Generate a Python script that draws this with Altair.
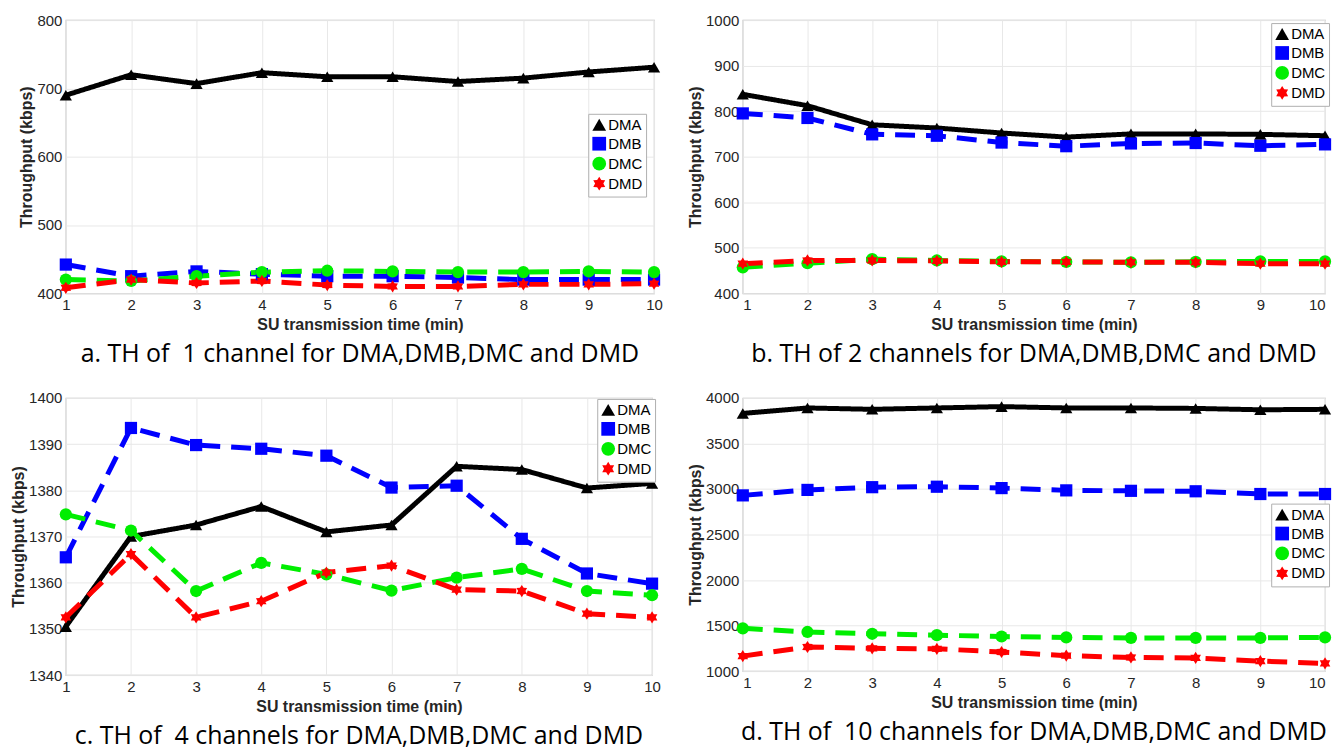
import altair as alt
import pandas as pd

x_vals = list(range(1, 11))
series = ["DMA", "DMB", "DMC", "DMD"]

# panel a: 1 channel
a_dma = [690, 720, 707, 723, 717, 717, 710, 715, 724, 731]
a_dmb = [442, 425, 432, 428, 425, 425, 423, 420, 420, 420]
a_dmc = [420, 418, 425, 431, 433, 432, 431, 431, 432, 431]
a_dmd = [408, 420, 415, 418, 412, 410, 410, 413, 413, 414]

# panel b: 2 channels
b_dma = [837, 812, 770, 763, 752, 743, 750, 750, 749, 746]
b_dmb = [795, 785, 749, 746, 731, 723, 729, 730, 724, 727]
b_dmc = [457, 466, 475, 472, 470, 469, 468, 469, 470, 470]
b_dmd = [465, 472, 472, 471, 469, 469, 468, 468, 465, 465]

# panel c: 4 channels
c_dma = [1350.5, 1370, 1372.5, 1376.5, 1371, 1372.5, 1385.2, 1384.5, 1380.5, 1381.5]
c_dmb = [1365.5, 1393.5, 1389.8, 1389, 1387.5, 1380.6, 1381, 1369.5, 1362, 1359.8]
c_dmc = [1374.8, 1371.3, 1358.2, 1364.3, 1361.8, 1358.3, 1361.1, 1363, 1358.2, 1357.3]
c_dmd = [1352.5, 1366.2, 1352.5, 1356, 1362.2, 1363.7, 1358.5, 1358.2, 1353.3, 1352.5]

# panel d: 10 channels
d_dma = [3830, 3890, 3875, 3890, 3905, 3890, 3890, 3885, 3870, 3875]
d_dmb = [2930, 2990, 3020, 3025, 3010, 2985, 2980, 2975, 2945, 2945]
d_dmc = [1470, 1430, 1410, 1395, 1380, 1370, 1365, 1365, 1365, 1370]
d_dmd = [1165, 1265, 1250, 1245, 1210, 1170, 1150, 1145, 1110, 1085]

captions = [
    "a. TH of \u00a01 channel for DMA,DMB,DMC and DMD",
    "b. TH of 2 channels for DMA,DMB,DMC and DMD",
    "c. TH of \u00a04 channels for DMA,DMB,DMC and DMD",
    "d. TH of \u00a010 channels for DMA,DMB,DMC and DMD",
]

colors = ["#000000", "#0000ff", "#00ee00", "#ff0000"]
hexagram = ("M0,-1L0.3,-0.52L0.866,-0.5L0.6,0L0.866,0.5L0.3,0.52L0,1L-0.3,0.52"
            "L-0.866,0.5L-0.6,0L-0.866,-0.5L-0.3,-0.52Z")
shapes = ["triangle-up", "square", "circle", hexagram]
dashes = [[1, 0], [20, 11], [20, 11], [20, 11]]

LABEL_FONT = "Liberation Sans Narrow, Liberation Sans, Arial"


def panel(vals, ymin, ymax, step, w, h, lx, ly, caption, flush=False):
    rows = []
    for s, v in zip(series, vals):
        for xv, yv in zip(x_vals, v):
            rows.append({"time": xv, "series": s, "line_series": s, "value": yv})
    df = pd.DataFrame(rows)
    xenc = alt.X(
        "time:Q",
        scale=alt.Scale(domain=[1, 10], nice=False),
        axis=alt.Axis(values=x_vals, title="SU transmission time (min)",
                      format="d", labelFlush=flush, titlePadding=4),
    )
    yticks = list(range(ymin, ymax + 1, step))
    yenc = alt.Y(
        "value:Q",
        scale=alt.Scale(domain=[ymin, ymax], nice=False, zero=False),
        axis=alt.Axis(values=yticks, title="Throughput (kbps)", format="d",
                      titlePadding=2),
    )
    base = alt.Chart(df)
    # data-driven domain (alphabetical = DMA..DMD) so that the hidden line legends
    # are not merged with the visible marker legend
    lines = base.mark_line(strokeWidth=5).encode(
        x=xenc, y=yenc,
        stroke=alt.Stroke("line_series:N", scale=alt.Scale(range=colors), legend=None),
        strokeDash=alt.StrokeDash("line_series:N", scale=alt.Scale(range=dashes), legend=None),
    )
    leg = alt.Legend(orient="none", legendX=lx, legendY=ly, title=None,
                     strokeColor="#b0b0b0", fillColor="white", padding=3,
                     labelFont="Liberation Sans, Arial", labelFontSize=15,
                     labelColor="#000000", symbolSize=190, rowPadding=0,
                     labelOffset=1)
    pts = base.mark_point(filled=True, size=150, opacity=1, strokeWidth=0).encode(
        x=xenc, y=yenc,
        fill=alt.Fill("series:N", scale=alt.Scale(domain=series, range=colors), legend=leg),
        shape=alt.Shape("series:N", scale=alt.Scale(domain=series, range=shapes), legend=leg),
    )
    return alt.layer(lines, pts).properties(
        width=w, height=h,
        title=alt.TitleParams(caption, orient="bottom", anchor="middle",
                              font="Open Sans", fontSize=25, fontWeight="normal",
                              color="#000000", offset=10),
    )


pa = panel([a_dma, a_dmb, a_dmc, a_dmd], 400, 800, 100, 590, 274, 524, 94, captions[0])
pb = panel([b_dma, b_dmb, b_dmc, b_dmd], 400, 1000, 100, 584, 274, 530, 3, captions[1], flush=True)
pc = panel([c_dma, c_dmb, c_dmc, c_dmd], 1340, 1400, 10, 588, 278, 533, 1, captions[2])
pd_ = panel([d_dma, d_dmb, d_dmc, d_dmd], 1000, 4000, 500, 584, 274, 530, 106, captions[3], flush=True)

res = dict(fill="independent", shape="independent", stroke="independent", strokeDash="independent")

chart = alt.concat(pa, pb, pc, pd_, columns=2, spacing={"row": 22, "column": 22}).resolve_scale(
    **res
).resolve_legend(
    fill="independent", shape="independent"
).properties(
    padding={"left": 2, "top": 3, "right": 0, "bottom": 0}
).configure_axis(
    labelFont=LABEL_FONT, labelFontSize=15, labelColor="#262626",
    titleFont=LABEL_FONT, titleFontSize=16, titleFontWeight="bold", titleColor="#262626",
    gridColor="#e8e8e8", gridWidth=1, domain=False,
    ticks=False, labelPadding=4,
).configure_view(
    stroke="#bdbdbd", strokeWidth=1.2
)

chart.save("out.html", embed_options={"renderer": "svg", "actions": False})
